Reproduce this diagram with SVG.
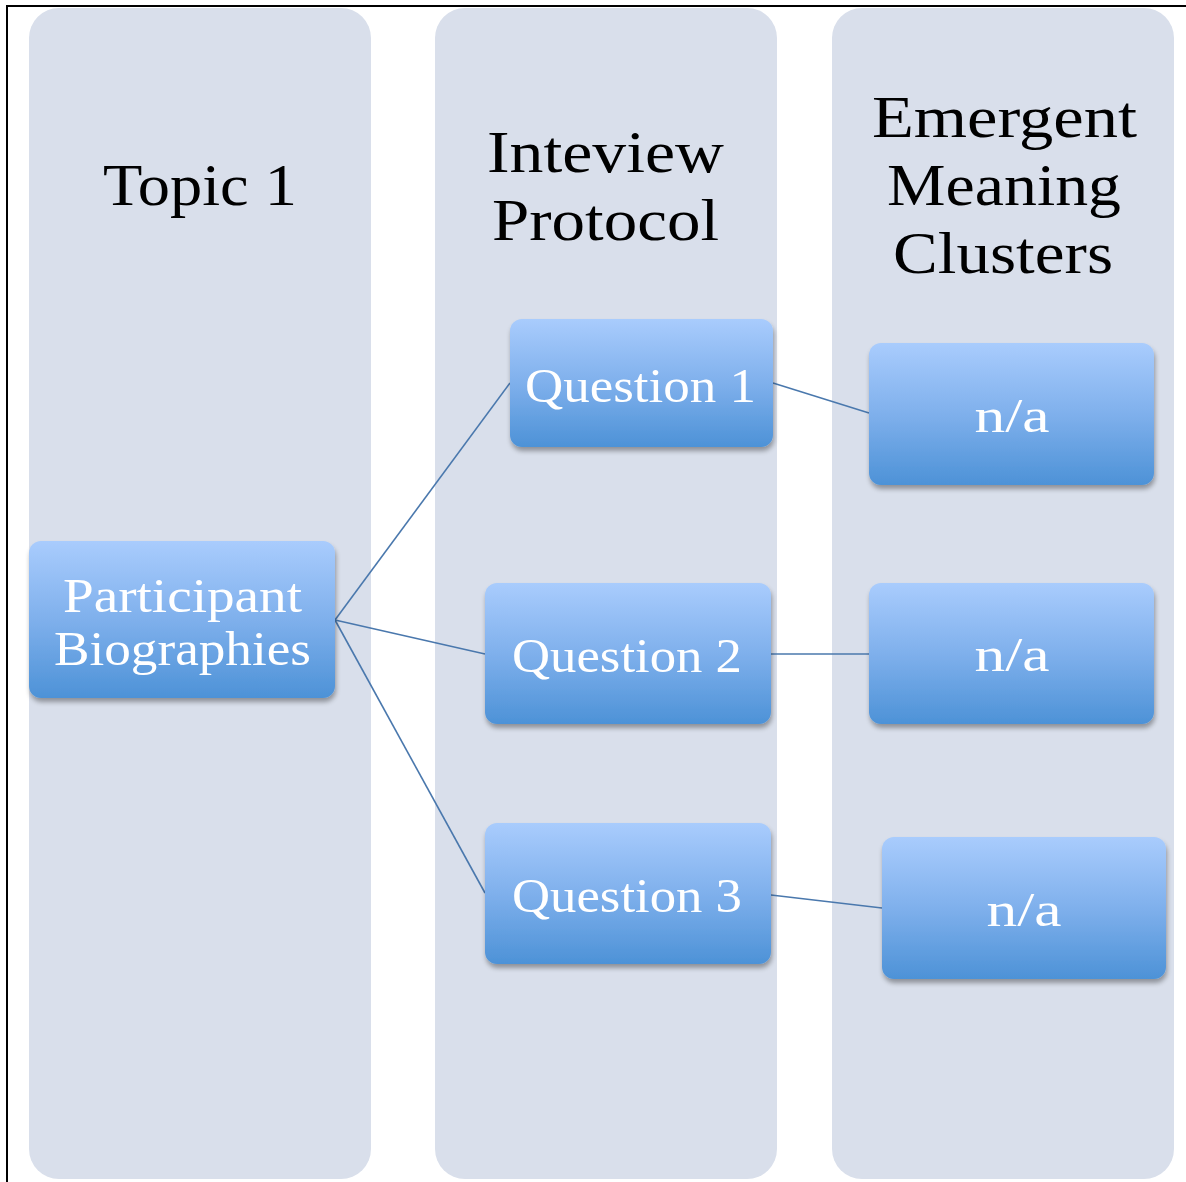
<svg xmlns="http://www.w3.org/2000/svg" width="1186" height="1182" viewBox="0 0 1186 1182">
<style>
.col{fill:#d9dfeb}
.node{fill:url(#g)}
.hdr{font-family:"Liberation Serif",serif;font-size:60px;fill:#000;text-anchor:middle}
.lbl{font-family:"Liberation Serif",serif;font-size:49px;fill:#fff;text-anchor:middle}
.conn{stroke:#4a78ad;stroke-width:1.6;fill:none}
</style>
<defs>
<linearGradient id="g" x1="0" y1="0" x2="0" y2="1">
<stop offset="0" stop-color="#a9ccfd"/>
<stop offset="0.5" stop-color="#7fb0ec"/>
<stop offset="1" stop-color="#4d92d7"/>
</linearGradient>
<filter id="sh" x="-10%" y="-10%" width="120%" height="130%">
<feGaussianBlur in="SourceAlpha" stdDeviation="2.5"/>
<feOffset dx="1" dy="4" result="b"/>
<feComponentTransfer><feFuncA type="linear" slope="0.35"/></feComponentTransfer>
<feMerge><feMergeNode/><feMergeNode in="SourceGraphic"/></feMerge>
</filter>
</defs>
<rect width="1186" height="1182" fill="#fff"/>
<path d="M7 1182 V6 H1186" fill="none" stroke="#000" stroke-width="2"/>
<g id="col-topic"><rect class="col" x="29" y="8" width="342" height="1171" rx="30"/><text class="hdr" x="200" y="205" textLength="194" lengthAdjust="spacingAndGlyphs">Topic 1</text></g>
<g id="col-protocol"><rect class="col" x="435" y="8" width="342" height="1171" rx="30"/><text class="hdr" x="605.5" y="172" textLength="237" lengthAdjust="spacingAndGlyphs">Inteview</text><text class="hdr" x="605.5" y="240" textLength="227" lengthAdjust="spacingAndGlyphs">Protocol</text></g>
<g id="col-clusters"><rect class="col" x="832" y="8" width="342" height="1171" rx="30"/><text class="hdr" x="1004.5" y="137" textLength="265" lengthAdjust="spacingAndGlyphs">Emergent</text><text class="hdr" x="1004" y="205" textLength="234" lengthAdjust="spacingAndGlyphs">Meaning</text><text class="hdr" x="1003" y="273" textLength="220" lengthAdjust="spacingAndGlyphs">Clusters</text></g>
<g id="connectors">
<line class="conn" x1="335" y1="620" x2="510" y2="383"/>
<line class="conn" x1="335" y1="620" x2="485" y2="654"/>
<line class="conn" x1="335" y1="620" x2="485" y2="893"/>
<line class="conn" x1="773" y1="383" x2="869" y2="413"/>
<line class="conn" x1="771" y1="654" x2="869" y2="654"/>
<line class="conn" x1="771" y1="895" x2="882" y2="908"/>
</g>
<g id="n-participant" filter="url(#sh)"><rect class="node" x="29" y="541" width="306" height="157" rx="12"/><text class="lbl" x="182.5" y="612" textLength="239" lengthAdjust="spacingAndGlyphs">Participant</text><text class="lbl" x="182.5" y="665" textLength="257" lengthAdjust="spacingAndGlyphs">Biographies</text></g>
<g id="n-q1" filter="url(#sh)"><rect class="node" x="510" y="319" width="263" height="128" rx="12"/><text class="lbl" x="640.5" y="402" textLength="231" lengthAdjust="spacingAndGlyphs">Question 1</text></g>
<g id="n-q2" filter="url(#sh)"><rect class="node" x="485" y="583" width="286" height="141" rx="12"/><text class="lbl" x="627" y="672" textLength="230" lengthAdjust="spacingAndGlyphs">Question 2</text></g>
<g id="n-q3" filter="url(#sh)"><rect class="node" x="485" y="823" width="286" height="141" rx="12"/><text class="lbl" x="627" y="912" textLength="230" lengthAdjust="spacingAndGlyphs">Question 3</text></g>
<g id="n-na1" filter="url(#sh)"><rect class="node" x="869" y="343" width="285" height="142" rx="12"/><text class="lbl" x="1012" y="432" textLength="75" lengthAdjust="spacingAndGlyphs">n/a</text></g>
<g id="n-na2" filter="url(#sh)"><rect class="node" x="869" y="583" width="285" height="141" rx="12"/><text class="lbl" x="1012" y="671" textLength="75" lengthAdjust="spacingAndGlyphs">n/a</text></g>
<g id="n-na3" filter="url(#sh)"><rect class="node" x="882" y="837" width="284" height="142" rx="12"/><text class="lbl" x="1024" y="926" textLength="75" lengthAdjust="spacingAndGlyphs">n/a</text></g>
</svg>
